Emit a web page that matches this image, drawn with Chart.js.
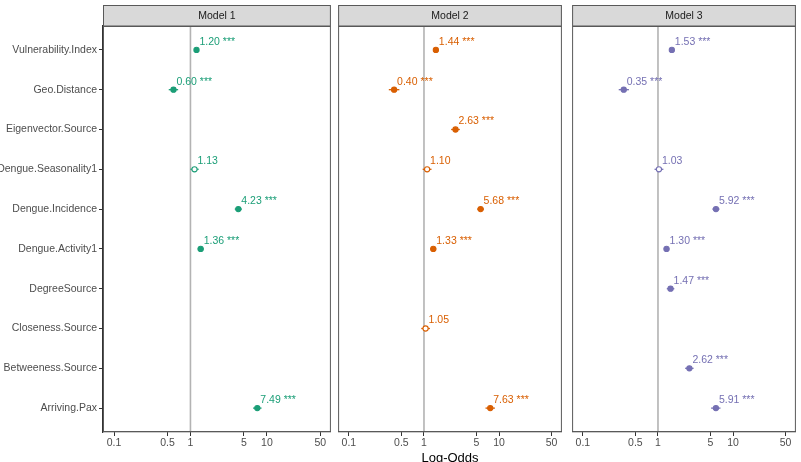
<!DOCTYPE html>
<html>
<head>
<meta charset="utf-8">
<script src="https://cdn.jsdelivr.net/npm/chart.js@4.4.0/dist/chart.umd.min.js"></script>
<style>
  html, body { margin: 0; padding: 0; background: #fff; }
  #wrap { position: relative; width: 801px; height: 462px; overflow: hidden; }
  #wrap canvas { position: absolute; top: 0; }
  #xtitle { position: absolute; left: 337px; width: 226px; top: 450px; text-align: center;
            font: 13px "Liberation Sans", Arial, sans-serif; color: #000; line-height: 15px; }
</style>
</head>
<body>
<div id="wrap">
  <canvas id="c1" width="336" height="462" style="left:0px"></canvas>
  <canvas id="c2" width="234" height="462" style="left:333px"></canvas>
  <canvas id="c3" width="234" height="462" style="left:567px"></canvas>
  <div id="xtitle">Log-Odds</div>
</div>
<script>
const categories = ["Vulnerability.Index", "Geo.Distance", "Eigenvector.Source", "Dengue.Seasonality1",
  "Dengue.Incidence", "Dengue.Activity1", "DegreeSource", "Closeness.Source",
  "Betweeness.Source", "Arriving.Pax"];
const modelNames = ["Model 1", "Model 2", "Model 3"];
const colors = ["#1b9e77", "#d95f02", "#7570b3"];
const xTicks = [0.1, 0.5, 1, 5, 10, 50];

// odds ratios, confidence bounds and significance stars (null = not in model)
const est1 = [1.20, 0.60, null, 1.13, 4.23, 1.36, null, null, null, 7.49];
const lo1  = [1.14, 0.52, null, 1.00, 3.80, 1.24, null, null, null, 6.60];
const hi1  = [1.26, 0.69, null, 1.28, 4.70, 1.49, null, null, null, 8.50];
const sig1 = ["***", "***", null, "", "***", "***", null, null, null, "***"];

const est2 = [1.44, 0.40, 2.63, 1.10, 5.68, 1.33, null, 1.05, null, 7.63];
const lo2  = [1.37, 0.34, 2.30, 0.96, 5.10, 1.21, null, 0.92, null, 6.60];
const hi2  = [1.51, 0.47, 3.00, 1.26, 6.30, 1.46, null, 1.20, null, 8.80];
const sig2 = ["***", "***", "***", "", "***", "***", null, "", null, "***"];

const est3 = [1.53, 0.35, null, 1.03, 5.92, 1.30, 1.47, null, 2.62, 5.91];
const lo3  = [1.46, 0.30, null, 0.90, 5.30, 1.19, 1.31, null, 2.30, 5.10];
const hi3  = [1.60, 0.41, null, 1.18, 6.60, 1.42, 1.65, null, 2.98, 6.80];
const sig3 = ["***", "***", null, "", "***", "***", "***", null, "***", "***"];

const FONT = '"Liberation Sans", Arial, sans-serif';
Chart.defaults.font.family = FONT;

function facetPlugin(m) {
  return {
    id: "facet" + m.name.replace(" ", ""),
    beforeDatasetsDraw(chart) {
      const { ctx, chartArea: a, scales: { x, y } } = chart;
      ctx.save();
      // reference line at 1
      const x1 = x.getPixelForValue(1);
      ctx.strokeStyle = "#b3b3b3";
      ctx.lineWidth = 1.6;
      ctx.beginPath(); ctx.moveTo(x1, a.top); ctx.lineTo(x1, a.bottom); ctx.stroke();
      // confidence intervals
      ctx.strokeStyle = m.color;
      ctx.lineWidth = 1.3;
      m.est.forEach((v, i) => {
        if (v == null) return;
        const py = y.getPixelForValue(i + 1);
        ctx.beginPath();
        ctx.moveTo(x.getPixelForValue(m.lo[i]), py);
        ctx.lineTo(x.getPixelForValue(m.hi[i]), py);
        ctx.stroke();
      });
      ctx.restore();
    },
    afterDatasetsDraw(chart) {
      const { ctx, scales: { x, y } } = chart;
      ctx.save();
      ctx.fillStyle = m.color;
      ctx.font = "10.5px " + FONT;
      ctx.textAlign = "left";
      ctx.textBaseline = "middle";
      m.est.forEach((v, i) => {
        if (v == null) return;
        const txt = v.toFixed(2) + (m.sig[i] ? " " + m.sig[i] : "");
        ctx.fillText(txt, x.getPixelForValue(v) + 3, y.getPixelForValue(i + 1) - 8);
      });
      ctx.restore();
    },
    afterDraw(chart) {
      const { ctx, chartArea: a } = chart;
      ctx.save();
      ctx.strokeStyle = "#595959";
      ctx.lineWidth = 1;
      ctx.strokeRect(a.left + 0.5, a.top + 0.5, a.right - a.left - 1, a.bottom - a.top - 1);
      // strip
      ctx.fillStyle = "#d9d9d9";
      ctx.fillRect(a.left, 5, a.right - a.left, 21);
      ctx.strokeRect(a.left + 0.5, 5.5, a.right - a.left - 1, 20.5);
      ctx.fillStyle = "#1a1a1a";
      ctx.font = "10.5px " + FONT;
      ctx.textAlign = "center";
      ctx.textBaseline = "middle";
      ctx.fillText(m.name, (a.left + a.right) / 2, 16);
      ctx.restore();
    }
  };
}

function makeFacet(id, name, color, est, lo, hi, sig, showY, padding) {
  const m = { name, color, est, lo, hi, sig };
  const pts = [], fills = [];
  est.forEach((v, i) => {
    if (v == null) return;
    pts.push({ x: v, y: i + 1 });
    fills.push(sig[i] ? color : "#ffffff");
  });
  return new Chart(document.getElementById(id), {
    type: "scatter",
    data: {
      datasets: [{
        data: pts,
        pointRadius: 2.6,
        pointBorderWidth: 1.1,
        pointBackgroundColor: fills,
        pointBorderColor: color,
        showLine: false
      }]
    },
    options: {
      responsive: false,
      animation: false,
      events: [],
      layout: { padding: padding },
      plugins: { legend: { display: false }, tooltip: { enabled: false } },
      scales: {
        x: {
          type: "logarithmic",
          min: 0.0718,
          max: 68.7,
          afterBuildTicks: s => { s.ticks = xTicks.map(v => ({ value: v })); },
          afterFit: s => { s.height = 30; },
          ticks: { callback: v => String(v), autoSkip: false, maxRotation: 0,
                   color: "#4d4d4d", font: { size: 10.5 }, padding: 1 },
          grid: { drawOnChartArea: false, tickLength: 4, color: "#333333" },
          border: { color: "#333333", width: 1.2 }
        },
        y: {
          type: "linear",
          min: 0.4,
          max: 10.6,
          reverse: true,
          display: showY,
          afterBuildTicks: s => { s.ticks = categories.map((c, i) => ({ value: i + 1 })); },
          afterFit: s => { s.width = showY ? 103 : 0; },
          ticks: { callback: v => categories[Math.round(v) - 1], autoSkip: false,
                   color: "#4d4d4d", font: { size: 10.5 }, padding: 2 },
          grid: { drawOnChartArea: false, tickLength: 4, color: "#333333" },
          border: { color: "#333333", width: 1.2 }
        }
      }
    },
    plugins: [facetPlugin(m)]
  });
}

makeFacet("c1", modelNames[0], colors[0], est1, lo1, hi1, sig1, true,  { top: 26, right: 5, left: 0, bottom: 0 });
makeFacet("c2", modelNames[1], colors[1], est2, lo2, hi2, sig2, false, { top: 26, right: 4, left: 4, bottom: 0 });
makeFacet("c3", modelNames[2], colors[2], est3, lo3, hi3, sig3, false, { top: 26, right: 4, left: 4, bottom: 0 });
</script>
</body>
</html>
